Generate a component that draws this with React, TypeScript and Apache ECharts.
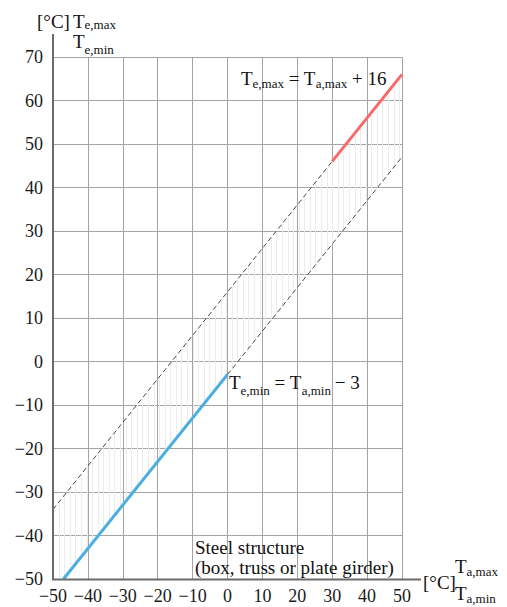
import React, { useEffect, useRef } from "react";
import * as echarts from "echarts";

// ---- data ----
const X_MIN = -50;
const X_MAX = 50;
const Y_MIN = -50;
const Y_MAX = 70;
const TICK = 10;

// Te,max = Ta,max + 16 ; Te,min = Ta,min - 3
const UPPER_OFFSET = 16;
const LOWER_OFFSET = -3;

const upperDashed: number[][] = [[-50, -34], [30, 46]];
const upperRed: number[][] = [[30, 46], [50, 66]];
const lowerBlue: number[][] = [[-47, -50], [0, -3]];
const lowerDashed: number[][] = [[0, -3], [50, 47]];

const HATCH_STEP = 1.6; // texture spacing of the shaded band

const SERIF = "Liberation Serif";
const INK = "#111111";

const fmt = (v: number) => "{n|" + String(v).replace("-", "\u2212") + "}";

const richStyles = {
  m: { fontSize: 19, fontFamily: SERIF, fill: INK },
  s: { fontSize: 13, fontFamily: SERIF, fill: INK, padding: [10, 0, 0, 0] },
  s2: { fontSize: 13, fontFamily: SERIF, fill: INK, padding: [16, 0, 0, 0] },
  s0: { fontSize: 13, fontFamily: SERIF, fill: INK, padding: [6, 0, 0, 0] },
};

function richText(x: number, y: number, text: string) {
  return {
    type: "text",
    x,
    y,
    z: 10,
    style: {
      text,
      rich: richStyles,
      align: "left",
      verticalAlign: "middle",
      fill: INK,
      fontFamily: SERIF,
      fontSize: 19,
    },
  };
}

export default function App() {
  const ref = useRef<HTMLDivElement>(null);

  useEffect(() => {
    document.body.style.margin = "0";
    const chart = echarts.init(ref.current!, null, { renderer: "svg" });

    const axisCommon = {
      type: "value",
      interval: TICK,
      axisLine: { show: false },
      axisTick: { show: false },
      splitLine: { show: true, lineStyle: { color: "#a4a4a4", width: 1 } },
    };

    const labelStyle = {
      fontFamily: SERIF,
      fontSize: 18,
      color: "#1a1a1a",
      formatter: fmt,
      rich: {
        n: { fontFamily: SERIF, fontSize: 18, color: "#1a1a1a" },
      },
    };

    const option: any = {
      animation: false,
      backgroundColor: "#ffffff",
      textStyle: { fontFamily: SERIF },
      grid: { left: 53, right: 105, top: 57, bottom: 28, containLabel: false },
      xAxis: {
        ...axisCommon,
        min: X_MIN,
        max: X_MAX,
        axisLabel: { ...labelStyle, margin: 8 },
      },
      yAxis: {
        ...axisCommon,
        min: Y_MIN,
        max: Y_MAX,
        axisLabel: { ...labelStyle, margin: 10 },
      },
      series: [
        {
          type: "custom",
          silent: true,
          z: 1,
          data: [[0, 0]],
          renderItem: (_params: any, api: any) => {
            const children: any[] = [];
            for (let x = X_MIN + HATCH_STEP; x <= X_MAX + 1e-6; x += HATCH_STEP) {
              const lo = Math.max(x + LOWER_OFFSET, Y_MIN);
              const hi = Math.min(x + UPPER_OFFSET, Y_MAX);
              if (hi <= lo) continue;
              const p1 = api.coord([x, lo]);
              const p2 = api.coord([x, hi]);
              const px = Math.round(p1[0]) + 0.5;
              children.push({
                type: "line",
                shape: { x1: px, y1: p1[1], x2: px, y2: p2[1] },
                style: { stroke: "#ececec", lineWidth: 1 },
              });
            }
            return { type: "group", children };
          },
        },
        {
          type: "line",
          data: upperDashed,
          symbol: "none",
          z: 3,
          lineStyle: { color: "#333333", width: 0.9, type: [5, 3] },
        },
        {
          type: "line",
          data: lowerDashed,
          symbol: "none",
          z: 3,
          lineStyle: { color: "#333333", width: 0.9, type: [5, 3] },
        },
        {
          type: "line",
          data: upperRed,
          symbol: "none",
          z: 4,
          lineStyle: { color: "#f86a6a", width: 3 },
        },
        {
          type: "line",
          data: lowerBlue,
          symbol: "none",
          z: 4,
          lineStyle: { color: "#4daee3", width: 3 },
        },
      ],
      graphic: [
        {
          type: "line",
          z: 5,
          shape: { x1: 53, y1: 580, x2: 53, y2: 34 },
          style: { stroke: "#6b6b6b", lineWidth: 2 },
        },
        {
          type: "line",
          z: 5,
          shape: { x1: 52, y1: 579.5, x2: 421, y2: 579.5 },
          style: { stroke: "#6b6b6b", lineWidth: 2 },
        },
        // top-left axis title
        {
          type: "text",
          x: 37,
          y: 21,
          z: 10,
          style: { text: "[°C]", fontFamily: SERIF, fontSize: 19, fill: INK, align: "left", verticalAlign: "middle" },
        },
        richText(73, 21, "{m|T}{s0|e,max}"),
        richText(73, 41, "{m|T}{s2|e,min}"),
        // equations
        richText(241, 78, "{m|T}{s|e,max}{m| = T}{s|a,max}{m| + 16}"),
        richText(229, 382, "{m|T}{s2|e,min}{m| = T}{s2|a,min}{m|\u2009\u2212 3}"),
        // label
        {
          type: "text",
          x: 195,
          y: 537,
          z: 10,
          style: {
            text: "Steel structure\n(box, truss or plate girder)",
            fontFamily: SERIF,
            fontSize: 19,
            lineHeight: 20,
            fill: INK,
            align: "left",
            verticalAlign: "top",
          },
        },
        // bottom-right axis title
        {
          type: "text",
          x: 423,
          y: 582,
          z: 10,
          style: { text: "[°C]", fontFamily: SERIF, fontSize: 19, fill: INK, align: "left", verticalAlign: "middle" },
        },
        richText(455, 566, "{m|T}{s|a,max}"),
        richText(455, 593, "{m|T}{s|a,min}"),
      ],
    };

    chart.setOption(option);
    return () => chart.dispose();
  }, []);

  return <div ref={ref} style={{ width: 507, height: 607 }} />;
}
